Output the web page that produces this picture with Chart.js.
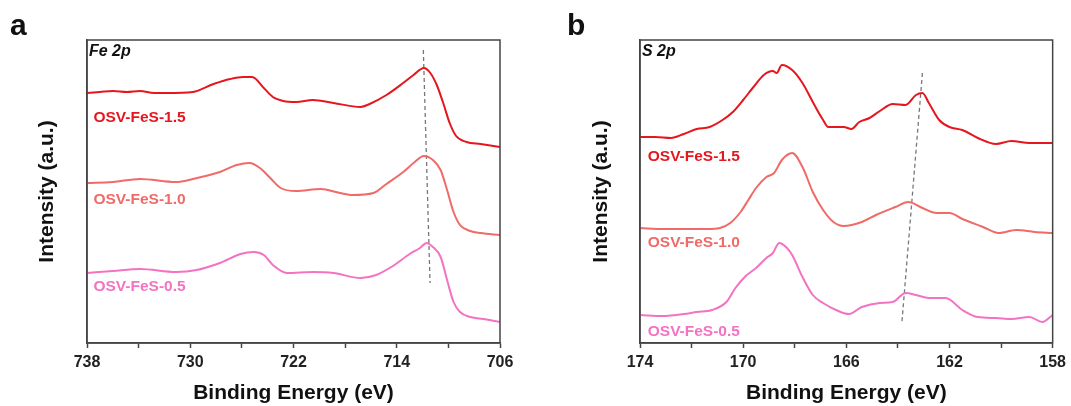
<!DOCTYPE html>
<html>
<head>
<meta charset="utf-8">
<script src="https://cdn.jsdelivr.net/npm/chart.js@4"></script>
<style>
  body { margin: 0; background: #fff; }
  #wrap { position: relative; width: 1071px; height: 406px; }
  canvas { position: absolute; top: 0; }
</style>
</head>
<body>
<div id="wrap">
  <canvas id="chartA" width="540" height="406" style="left:0"></canvas>
  <canvas id="chartB" width="531" height="406" style="left:540px"></canvas>
</div>
<script>
// Fe 2p spectra (binding energy in eV, intensity in arbitrary units)
const fe15E = [738, 737.0, 736.0, 734.9, 733.9, 732.8, 731.8, 729.8, 728.2, 726.9, 725.9, 725.2, 724.3, 723.6, 722.8, 721.8, 720.5, 718.9, 716.8, 716.1, 714.8, 713.5, 712.7, 711.9, 711.4, 710.9, 710.4, 709.9, 709.4, 708.6, 707.5, 706];
const fe15I = [250, 251, 252, 251, 252, 250, 250, 251, 259, 264, 266, 266, 255, 246, 242, 241, 243, 240, 236, 239, 248, 260, 268, 275, 270, 258, 240, 220, 207, 201, 199, 196];

const fe10E = [738, 736.0, 733.9, 731.1, 729.8, 727.7, 726.4, 725.4, 724.6, 723.8, 723.0, 721.8, 719.9, 718.4, 717.4, 715.8, 714.8, 713.5, 712.7, 711.9, 711.2, 710.6, 710.1, 709.6, 709.1, 708.3, 707.5, 706];
const fe10I = [160, 161, 164, 161, 164, 171, 178, 180, 175, 165, 155, 152, 154, 150, 148, 150, 159, 171, 180, 187, 183, 173, 153, 131, 118, 112, 110, 108];

const fe05E = [738, 736.0, 733.9, 731.1, 729.5, 727.7, 726.1, 725.1, 724.3, 723.6, 722.5, 720.5, 718.9, 716.8, 715.6, 714.3, 713.0, 712.2, 711.7, 711.2, 710.6, 710.1, 709.6, 709.1, 708.3, 707.3, 706];
const fe05I = [70, 72, 74, 71, 73, 80, 89, 91, 88, 78, 70, 71, 70, 65, 68, 77, 89, 95, 100, 96, 86, 63, 41, 31, 26, 24, 21];

const feGuideE = [711.94, 711.42];
const feGuideI = [293, 60];

// S 2p spectra
const s15E = [174.0, 173.4, 172.8, 172.3, 171.8, 171.3, 170.8, 170.4, 170.0, 169.6, 169.2, 168.85, 168.7, 168.5, 168.1, 167.7, 167.3, 166.9, 166.7, 166.1, 165.8, 165.5, 165.1, 164.7, 164.2, 163.7, 163.3, 163.05, 162.8, 162.4, 162.0, 161.5, 160.9, 160.2, 159.6, 158.9, 158.0];
const s15I = [206, 206, 205, 209, 214, 216, 223, 231, 243, 256, 268, 272, 270, 278, 273, 260, 241, 223, 216, 216, 214, 221, 225, 232, 239, 238, 248, 250, 240, 223, 216, 213, 205, 199, 202, 200, 200];

const s10E = [174.0, 173.1, 172.3, 171.4, 170.9, 170.5, 170.1, 169.8, 169.5, 169.1, 168.8, 168.5, 168.1, 167.7, 167.3, 166.9, 166.5, 166.1, 165.4, 164.85, 164.1, 163.6, 163.05, 162.5, 162.0, 161.5, 160.7, 160.1, 159.4, 158.7, 158.0];
const s10I = [115, 114, 114, 114, 115, 120, 131, 143, 155, 166, 170, 183, 190, 176, 151, 133, 121, 117, 121, 128, 136, 141, 135, 130, 130, 124, 116, 110, 113, 111, 110];

const s05E = [174.0, 173.1, 172.3, 171.8, 171.2, 170.65, 170.3, 169.9, 169.5, 169.1, 168.85, 168.6, 168.3, 168.1, 167.7, 167.3, 166.9, 166.4, 165.9, 165.4, 164.7, 164.2, 163.7, 163.3, 162.8, 162.15, 161.5, 160.9, 160.2, 159.6, 158.9, 158.4, 158.0];
const s05I = [28, 27, 29, 31, 33, 41, 55, 67, 75, 85, 90, 100, 95, 88, 66, 48, 40, 33, 29, 36, 40, 41, 50, 48, 45, 45, 33, 26, 25, 24, 26, 21, 28];

const sGuideE = [163.05, 163.85];
const sGuideI = [270, 19];

const seriesNames = ['OSV-FeS-1.5', 'OSV-FeS-1.0', 'OSV-FeS-0.5'];
const seriesColors = ['#e6161e', '#f06a68', '#f373c2'];

const FONT = '"Liberation Sans", Arial, sans-serif';

function pts(xs, ys) {
  return xs.map((x, i) => ({ x: x, y: ys[i] }));
}

function line(data, color) {
  return { data: data, borderColor: color, borderWidth: 2, pointRadius: 0, cubicInterpolationMode: 'monotone', fill: false };
}

function makeDecor(cfg) {
  return {
    id: 'decor',
    afterDraw(chart) {
      const { ctx, chartArea: a, scales } = chart;
      ctx.save();
      ctx.strokeStyle = '#444';
      ctx.lineWidth = 1.5;
      ctx.strokeRect(a.left, a.top, a.right - a.left, a.bottom - a.top);

      ctx.fillStyle = '#111';
      ctx.textBaseline = 'middle';
      ctx.font = 'italic bold 16px ' + FONT;
      ctx.fillText(cfg.core, a.left + 2, a.top + 12);

      ctx.textBaseline = 'alphabetic';
      ctx.font = 'bold 30px ' + FONT;
      ctx.fillText(cfg.letter, cfg.letterX, 35);

      ctx.textBaseline = 'middle';
      ctx.font = 'bold 15.5px ' + FONT;
      cfg.labels.forEach((l, i) => {
        ctx.fillStyle = seriesColors[i];
        ctx.fillText(seriesNames[i], scales.x.getPixelForValue(l[0]), scales.y.getPixelForValue(l[1]));
      });
      ctx.restore();
    }
  };
}

function makeChart(id, cfg) {
  return new Chart(document.getElementById(id), {
    type: 'line',
    data: {
      datasets: [
        line(cfg.series[0], seriesColors[0]),
        line(cfg.series[1], seriesColors[1]),
        line(cfg.series[2], seriesColors[2]),
        { data: cfg.guide, borderColor: '#777', borderWidth: 1.3, borderDash: [4, 3], pointRadius: 0, fill: false }
      ]
    },
    options: {
      responsive: false,
      animation: false,
      layout: { padding: { top: 40, right: cfg.padRight, left: 0, bottom: 0 } },
      plugins: { legend: { display: false }, tooltip: { enabled: false } },
      scales: {
        x: {
          type: 'linear',
          reverse: true,
          min: cfg.min,
          max: cfg.max,
          ticks: {
            stepSize: cfg.step,
            autoSkip: false,
            maxRotation: 0,
            padding: 5,
            color: '#222',
            font: { family: FONT, size: 16, weight: 'bold' },
            callback: v => ((v - cfg.min) % (cfg.step * 2) === 0 ? v : '')
          },
          grid: { drawOnChartArea: false, tickLength: 5, color: '#444', tickWidth: 1.5 },
          border: { color: '#444', width: 1.5 },
          title: { display: true, text: 'Binding Energy (eV)', color: '#111', font: { family: FONT, size: 21, weight: 'bold' }, padding: { top: 0, bottom: 0 } },
          afterFit: s => { s.height = 63; }
        },
        y: {
          min: 0,
          max: 303,
          ticks: { display: false },
          grid: { display: false },
          border: { display: true, color: '#444', width: 1.5 },
          title: { display: true, text: 'Intensity (a.u.)', color: '#111', font: { family: FONT, size: 21, weight: 'bold' }, padding: { top: cfg.titlePad, bottom: 0 } },
          afterFit: s => { s.width = cfg.yWidth; }
        }
      }
    },
    plugins: [makeDecor(cfg)]
  });
}

makeChart('chartA', {
  series: [pts(fe15E, fe15I), pts(fe10E, fe10I), pts(fe05E, fe05I)],
  guide: pts(feGuideE, feGuideI),
  min: 706, max: 738, step: 4,
  padRight: 40, yWidth: 87, titlePad: 35,
  core: 'Fe 2p', letter: 'a', letterX: 10,
  labels: [[737.5, 225], [737.5, 143], [737.5, 56]]
});

makeChart('chartB', {
  series: [pts(s15E, s15I), pts(s10E, s10I), pts(s05E, s05I)],
  guide: pts(sGuideE, sGuideI),
  min: 158, max: 174, step: 2,
  padRight: 17, yWidth: 100, titlePad: 49,
  core: 'S 2p', letter: 'b', letterX: 27,
  labels: [[173.7, 186], [173.7, 100], [173.7, 11]]
});
</script>
</body>
</html>
